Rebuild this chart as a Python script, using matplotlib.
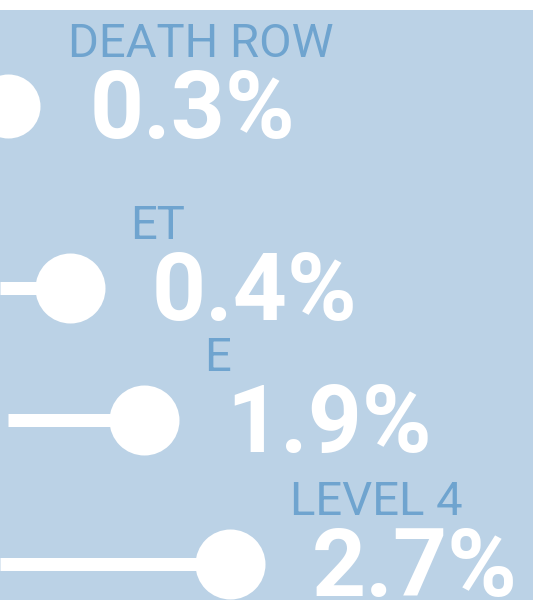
import matplotlib
matplotlib.use("Agg")
import matplotlib.pyplot as plt

# Data
categories = ["DEATH ROW", "ET", "E", "LEVEL 4"]
values = [0.3, 0.4, 1.9, 2.7]
value_labels = ["0.3%", "0.4%", "1.9%", "2.7%"]
# positions of the dots along the (cropped) horizontal axis
dot_x = [8, 70, 144, 230]
row_y = [106, 288, 420, 564]
line_start = [-40, 0, 8, 0]
dot_size = [64, 70, 70, 70]

BG = "#bbd2e6"
LABEL = "#6fa4cf"
W = 533
H = 600

fig = plt.figure(figsize=(W / 100, H / 100), dpi=100, facecolor="white")
ax = fig.add_axes([0, 0, 1, 590 / 600])
ax.set_xlim(0, W)
ax.set_ylim(600, 10)
ax.axis("off")
ax.add_patch(plt.Rectangle((0, 10), W, 590, facecolor=BG, edgecolor="none", zorder=0))

px = 0.72  # points per pixel

for cat, v, lab, x, y, x0, ds in zip(categories, values, value_labels, dot_x, row_y, line_start, dot_size):
    ax.plot([x0, x], [y, y], color="white", lw=13 * px, solid_capstyle="butt", zorder=2)
    ax.plot([x], [y], "o", color="white", markersize=ds * px, markeredgewidth=0, zorder=3)
    ax.annotate(lab, xy=(x, y), xytext=(82 * px, -32 * px), textcoords="offset points",
                ha="left", va="baseline", color="white", fontsize=68,
                fontfamily="Roboto", fontweight="bold", zorder=4)
    ax.annotate(cat, xy=(x, y), xytext=(60 * px, 49 * px), textcoords="offset points",
                ha="left", va="baseline", color=LABEL, fontsize=34,
                fontfamily="Roboto", fontweight="normal", zorder=4)

fig.savefig("out.png", dpi=100, facecolor="white")
